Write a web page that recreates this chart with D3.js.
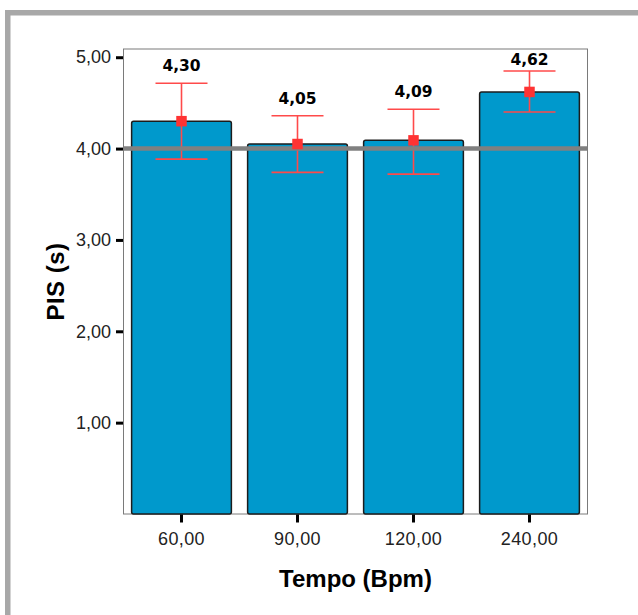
<!DOCTYPE html>
<html>
<head>
<meta charset="utf-8">
<script src="https://cdn.jsdelivr.net/npm/d3@7"></script>
<style>
  html, body { margin: 0; padding: 0; background: #fff; }
  svg { display: block; }
</style>
</head>
<body>
<svg id="chart" width="638" height="615"></svg>
<script>
// ---- data ----
const categories = ["60,00", "90,00", "120,00", "240,00"];
const means      = [4.30, 4.05, 4.09, 4.62];
const upperCI    = [4.715, 4.36, 4.43, 4.85];
const lowerCI    = [3.885, 3.74, 3.72, 4.40];
const valueLabels = ["4,30", "4,05", "4,09", "4,62"];
const yTicks     = [1, 2, 3, 4, 5];
const yTickLabels = ["1,00", "2,00", "3,00", "4,00", "5,00"];
const referenceValue = 4.0;
const xTitle = "Tempo (Bpm)";
const yTitle = "PIS (s)";

// ---- layout ----
const svg = d3.select("#chart");
const plot = { left: 123.5, right: 587.5, top: 49, bottom: 514 };

// outer gray frame (extends beyond the window right/bottom)
svg.append("rect")
  .attr("x", 7.75).attr("y", 12.75)
  .attr("width", 700).attr("height", 700)
  .attr("fill", "none")
  .attr("stroke", "#a8a8a8")
  .attr("stroke-width", 5.5);

const x = d3.scaleBand()
  .domain(categories)
  .range([plot.left, plot.right])
  .paddingInner(0.14)
  .paddingOuter(0.07);

const y = d3.scaleLinear()
  .domain([0, 5.09])
  .range([plot.bottom, plot.top]);

// plot frame
svg.append("rect")
  .attr("x", plot.left).attr("y", plot.top)
  .attr("width", plot.right - plot.left)
  .attr("height", plot.bottom - plot.top)
  .attr("fill", "#fff")
  .attr("stroke", "#7a7a7a")
  .attr("stroke-width", 1);

// bars
const data = categories.map((c, i) => ({
  cat: c, mean: means[i], hi: upperCI[i], lo: lowerCI[i], label: valueLabels[i]
}));

svg.append("g").selectAll("rect")
  .data(data).join("rect")
  .attr("x", d => x(d.cat))
  .attr("y", d => y(d.mean))
  .attr("width", x.bandwidth())
  .attr("height", d => y(0) - y(d.mean))
  .attr("rx", 2).attr("ry", 2)
  .attr("fill", "#0099cc")
  .attr("stroke", "#1c1c1c")
  .attr("stroke-width", 1.5);

// error bars
const capW = 52;
const eb = svg.append("g").attr("stroke", "#ff4a4a").attr("stroke-width", 1.6);
data.forEach(d => {
  const cx = x(d.cat) + x.bandwidth() / 2;
  eb.append("line").attr("x1", cx).attr("x2", cx).attr("y1", y(d.hi)).attr("y2", y(d.lo));
  eb.append("line").attr("x1", cx - capW / 2).attr("x2", cx + capW / 2).attr("y1", y(d.hi)).attr("y2", y(d.hi));
  eb.append("line").attr("x1", cx - capW / 2).attr("x2", cx + capW / 2).attr("y1", y(d.lo)).attr("y2", y(d.lo));
});

// reference line (drawn over bars and error bars)
svg.append("line")
  .attr("x1", plot.left).attr("x2", plot.right)
  .attr("y1", y(referenceValue)).attr("y2", y(referenceValue))
  .attr("stroke", "#808080")
  .attr("stroke-width", 4.5);

// mean markers
const ms = 10.5;
svg.append("g").selectAll("rect")
  .data(data).join("rect")
  .attr("x", d => x(d.cat) + x.bandwidth() / 2 - ms / 2)
  .attr("y", d => y(d.mean) - ms / 2)
  .attr("width", ms).attr("height", ms)
  .attr("fill", "#ff3333");

// value labels
svg.append("g").selectAll("text")
  .data(data).join("text")
  .attr("x", d => x(d.cat) + x.bandwidth() / 2)
  .attr("y", d => Math.max(y(d.hi) - 12, 65))
  .attr("text-anchor", "middle")
  .attr("font-family", "'DejaVu Sans', sans-serif")
  .attr("font-weight", "bold")
  .attr("font-size", "15.5px")
  .attr("fill", "#000")
  .text(d => d.label);

// y axis
const yAxis = d3.axisLeft(y)
  .tickValues(yTicks)
  .tickFormat((d, i) => yTickLabels[i])
  .tickSize(7)
  .tickPadding(5);
const gy = svg.append("g")
  .attr("transform", `translate(${plot.left - 0.5},0)`)
  .call(yAxis);
gy.select(".domain").remove();
gy.selectAll(".tick line").attr("stroke", "#000").attr("stroke-width", 3);
gy.selectAll(".tick text")
  .attr("font-family", "'Liberation Sans', Arial, sans-serif")
  .attr("font-size", "18px")
  .attr("fill", "#222");

// x axis
const xAxis = d3.axisBottom(x).tickSize(8).tickPadding(10);
const gx = svg.append("g")
  .attr("transform", `translate(0,${plot.bottom + 0.5})`)
  .call(xAxis);
gx.select(".domain").remove();
gx.selectAll(".tick line").attr("stroke", "#000").attr("stroke-width", 3);
gx.selectAll(".tick text")
  .attr("font-family", "'Liberation Sans', Arial, sans-serif")
  .attr("font-size", "18px")
  .attr("letter-spacing", "0.4px")
  .attr("fill", "#222");

// axis titles
svg.append("text")
  .attr("x", (plot.left + plot.right) / 2)
  .attr("y", 587)
  .attr("text-anchor", "middle")
  .attr("font-family", "'Liberation Sans', Arial, sans-serif")
  .attr("font-weight", "bold")
  .attr("font-size", "24px")
  .attr("fill", "#000")
  .text(xTitle);

svg.append("text")
  .attr("transform", `translate(64,${(plot.top + plot.bottom) / 2}) rotate(-90)`)
  .attr("text-anchor", "middle")
  .attr("font-family", "'Liberation Sans', Arial, sans-serif")
  .attr("font-weight", "bold")
  .attr("font-size", "24px")
  .attr("letter-spacing", "0.5px")
  .attr("fill", "#000")
  .text(yTitle);
</script>
</body>
</html>
